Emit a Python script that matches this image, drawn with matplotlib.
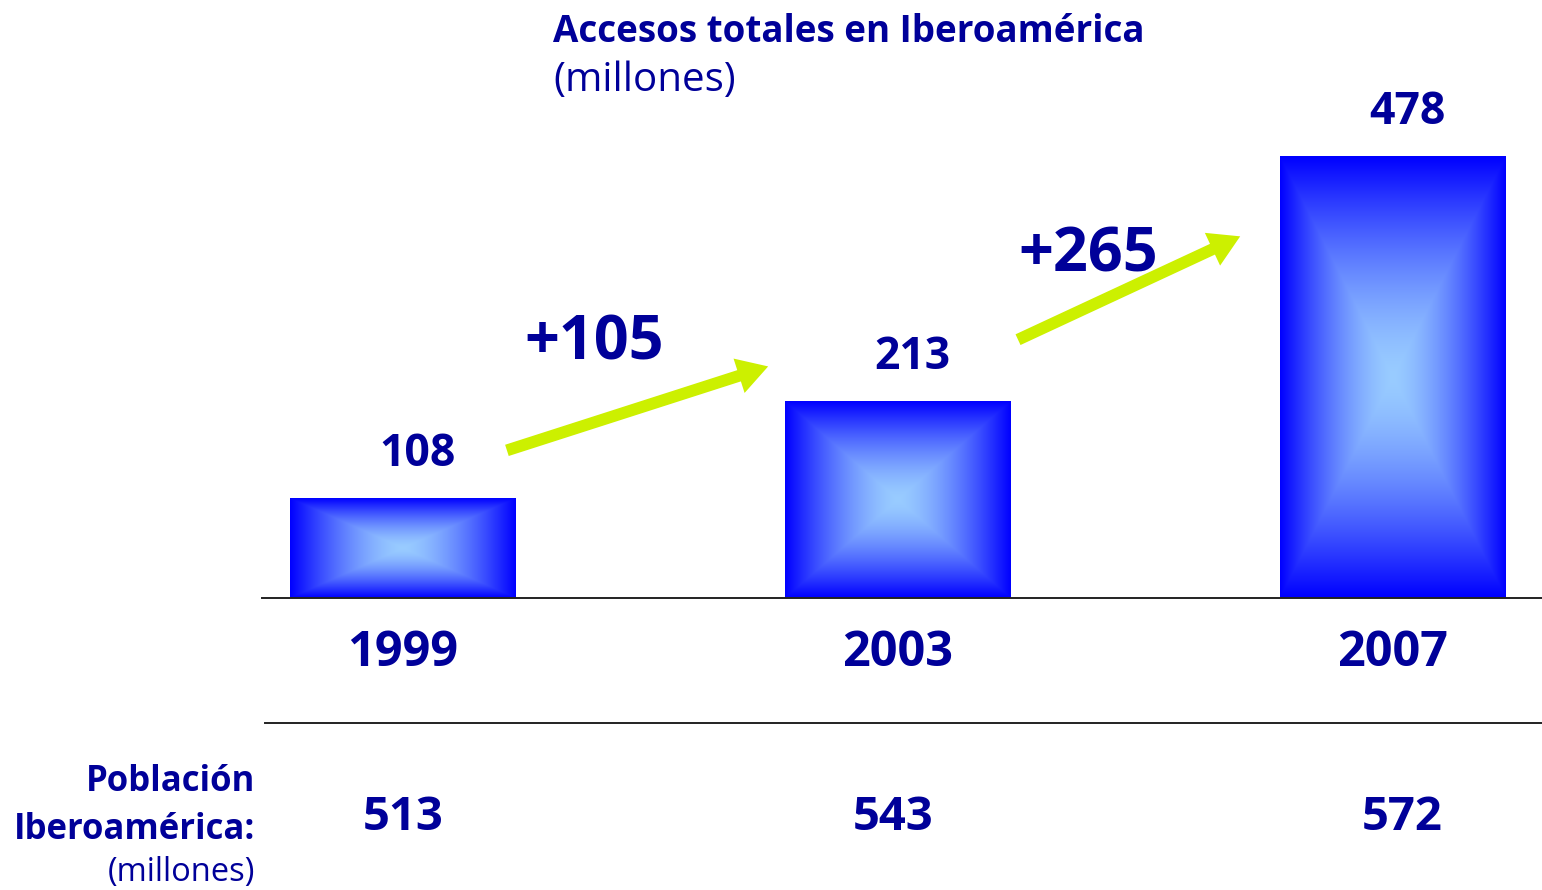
import numpy as np
import matplotlib
matplotlib.use("Agg")
import matplotlib.pyplot as plt
from matplotlib.patches import FancyArrowPatch

# ---- data ----
years = ["1999", "2003", "2007"]
accesses = [108, 213, 478]
increments = ["+105", "+265"]
population = ["513", "543", "572"]
title = "Accesos totales en Iberoamérica"
subtitle = "(millones)"
pop_label = ["Población", "Iberoamérica:", "(millones)"]

NAVY = "#000099"
ARROW = "#ccf000"
FONT = "Open Sans"

W, H = 1542, 890
fig = plt.figure(figsize=(W / 100, H / 100), dpi=100)
fig.patch.set_facecolor("white")

px_per_unit = 0.9226
base_px = 598
ax = fig.add_axes([262 / W, (H - base_px) / H, 1280 / W, base_px / H])
ax.axis("off")

def py(pixel_y):
    """figure pixel row -> data y"""
    return (base_px - pixel_y) / px_per_unit

# gradient bar fill (rectangular, from center)
n = 256
u = np.linspace(-1, 1, n)
U, V = np.meshgrid(u, u)
T = np.maximum(np.abs(U), np.abs(V)) ** 1.5
center = np.array([0.60, 0.80, 1.0])
edge = np.array([0.0, 0.0, 1.0])
img = center[None, None, :] * (1 - T[..., None]) + edge[None, None, :] * T[..., None]

x = np.arange(len(years))
bw = 0.455
for xi, val in zip(x, accesses):
    ax.imshow(img, extent=[xi - bw / 2, xi + bw / 2, 0, val], aspect="auto",
              interpolation="bilinear", zorder=2)
    ax.text(xi + 0.03, val + 48, str(val), ha="center", va="center", color=NAVY,
            fontsize=32, fontweight="bold", family=FONT)
ax.set_xlim(-0.285, 2.302)
ax.set_ylim(0, base_px / px_per_unit)

# baseline
ax.plot([-0.285, 2.302], [0, 0], color="#222222", lw=1.4, clip_on=False, zorder=3)

# year labels
for xi, yr in zip(x, years):
    ax.text(xi, py(654), yr, ha="center", va="center", color=NAVY, fontsize=35,
            fontweight="bold", family=FONT, clip_on=False)

# separator line
ax.plot([-0.279, 2.302], [py(723), py(723)], color="#222222", lw=1.4, clip_on=False)

# population values
pop_x = [0.0, 0.99, 2.02]
for xi, p in zip(pop_x, population):
    ax.text(xi, py(817), p, ha="center", va="center", color=NAVY, fontsize=34,
            fontweight="bold", family=FONT, clip_on=False)

# increment arrows
arrows = [((0.21, 160), (0.738, 251)), ((1.243, 280), (1.692, 392))]
for (p0, p1) in arrows:
    a = FancyArrowPatch(p0, p1, arrowstyle="simple,head_width=26,head_length=22,tail_width=8.5",
                        color=ARROW, lw=0, mutation_scale=1, zorder=4, clip_on=False,
                        shrinkA=0, shrinkB=0)
    ax.add_patch(a)

inc_pos = [(0.386, py(344)), (1.385, py(256))]
for (xi, yi), s in zip(inc_pos, increments):
    ax.text(xi, yi, s, ha="center", va="center", color=NAVY, fontsize=44,
            fontweight="bold", family=FONT, zorder=5)

# title
fig.text(553 / W, 1 - 32 / H, title, ha="left", va="center", color=NAVY,
         fontsize=26.5, fontweight="bold", family=FONT)
fig.text(553 / W, 1 - 81 / H, subtitle, ha="left", va="center", color=NAVY,
         fontsize=29, family=FONT)

# left population label
fig.text(255 / W, 1 - 782 / H, pop_label[0], ha="right", va="center", color=NAVY,
         fontsize=25, fontweight="bold", family=FONT)
fig.text(255 / W, 1 - 830 / H, pop_label[1], ha="right", va="center", color=NAVY,
         fontsize=25, fontweight="bold", family=FONT)
fig.text(255 / W, 1 - 873 / H, pop_label[2], ha="right", va="center", color=NAVY,
         fontsize=23.5, family=FONT)

fig.savefig("out.png", dpi=100, facecolor="white")
